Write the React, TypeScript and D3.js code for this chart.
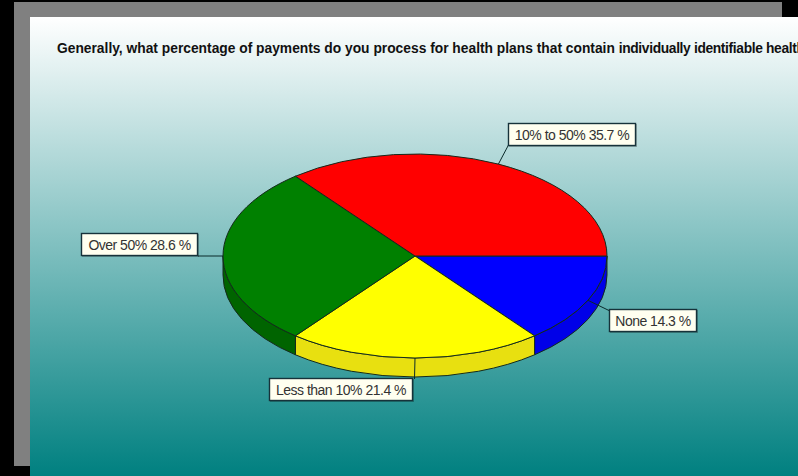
import React from "react";
import * as d3 from "d3";

const categories = ["None", "Less than 10%", "Over 50%", "10% to 50%"];
const shares = [14.3, 21.4, 28.6, 35.7];
const topColors = ["#0000ff", "#ffff00", "#008000", "#ff0000"];
const wallColors = ["#0000e8", "#e8e010", "#006400", "#c00000"];
const headingStart =
  "Generally, what percentage of payments do you process for health plans that contain ";
const headingEnd = "individually identifiable health";

const W = 798;
const H = 476;
const cx = 415;
const cy = 256;
const rx = 192;
const ry = 102;
const depth = 19;

// Label boxes: [left, top, right, bottom], in the same order as categories
const labelBoxes: [number, number, number, number][] = [
  [609, 309, 697, 332],
  [269, 378, 413, 401],
  [81, 233, 198, 256],
  [508, 123, 636, 146],
];
// Where each leader line meets its box
const leaderEnds: [number, number][] = [
  [610, 311],
  [414.5, 379],
  [198, 256],
  [509, 144],
];

const rim = (a: number, dy = 0): [number, number] => [
  cx + rx * Math.sin(a),
  cy - ry * Math.cos(a) + dy,
];

const arcTo = (a0: number, a1: number, dy = 0, reverse = false) => {
  const [x, y] = rim(reverse ? a0 : a1, dy);
  const large = Math.abs(a1 - a0) > Math.PI ? 1 : 0;
  return `A${rx},${ry} 0 ${large} ${reverse ? 0 : 1} ${x},${y}`;
};

export default function App() {
  const slices = d3
    .pie<number>()
    .sort(null)
    .startAngle(Math.PI / 2)
    .endAngle(Math.PI / 2 + 2 * Math.PI)(shares);

  // Only the part of the rim facing the viewer (east round to west) has a wall
  const wall = (a0: number, a1: number) => {
    const s = Math.max(a0, Math.PI / 2);
    const e = Math.min(a1, 1.5 * Math.PI);
    if (e <= s) return null;
    const [sx, sy] = rim(s);
    const [ex, ey] = rim(e, depth);
    return `M${sx},${sy}${arcTo(s, e)}L${ex},${ey}${arcTo(s, e, depth, true)}Z`;
  };

  const top = (a0: number, a1: number) => {
    const [sx, sy] = rim(a0);
    return `M${cx},${cy}L${sx},${sy}${arcTo(a0, a1)}Z`;
  };

  const outline = "#142a1c";

  return (
    <svg
      width={W}
      height={H}
      viewBox={`0 0 ${W} ${H}`}
      style={{ position: "absolute", left: 0, top: 0, display: "block" }}
    >
      <defs>
        <linearGradient id="panelFill" x1="0" y1="0" x2="0" y2="1">
          <stop offset="0" stopColor="#ffffff" />
          <stop offset="1" stopColor="#008080" />
        </linearGradient>
      </defs>
      <rect width={W} height={H} fill="#000" />
      <rect x={14} y={2} width={768} height={464} fill="#808080" />
      <rect x={30} y={17} width={768} height={459} fill="url(#panelFill)" />

      <text
        x={57}
        y={53}
        fontFamily="'Liberation Sans', Arial, sans-serif"
        fontWeight="bold"
        fontSize={13.8}
        fill="#111"
        xmlSpace="preserve"
      >
        <tspan>{headingStart}</tspan>
        <tspan letterSpacing={-0.35}>{headingEnd}</tspan>
      </text>

      {slices.map((s, i) => {
        const d = wall(s.startAngle, s.endAngle);
        return d ? (
          <path key={i} d={d} fill={wallColors[i]} stroke={outline} strokeWidth={1} />
        ) : null;
      })}
      {slices.map((s, i) => (
        <path
          key={i}
          d={top(s.startAngle, s.endAngle)}
          fill={topColors[i]}
          stroke={outline}
          strokeWidth={1}
        />
      ))}

      {slices.map((s, i) => {
        const [x, y] = rim((s.startAngle + s.endAngle) / 2);
        const [ex, ey] = leaderEnds[i];
        return <line key={i} x1={x} y1={y} x2={ex} y2={ey} stroke="#0a2a2a" strokeWidth={1} />;
      })}

      {categories.map((c, i) => {
        const [l, t, r, b] = labelBoxes[i];
        return (
          <g key={c}>
            <rect x={l + 1} y={t + 1} width={r - l} height={b - t} fill="#000" opacity={0.25} />
            <rect
              x={l + 0.5}
              y={t + 0.5}
              width={r - l - 1}
              height={b - t - 1}
              fill="#fffff0"
              stroke="#16323a"
              strokeWidth={1.4}
            />
            <text
              x={(l + r) / 2}
              y={(t + b) / 2 + 5}
              textAnchor="middle"
              fontFamily="'Liberation Sans', Arial, sans-serif"
              fontSize={14}
              letterSpacing={-0.5}
              fill="#333"
            >
              {`${c} ${shares[i]} %`}
            </text>
          </g>
        );
      })}
    </svg>
  );
}
